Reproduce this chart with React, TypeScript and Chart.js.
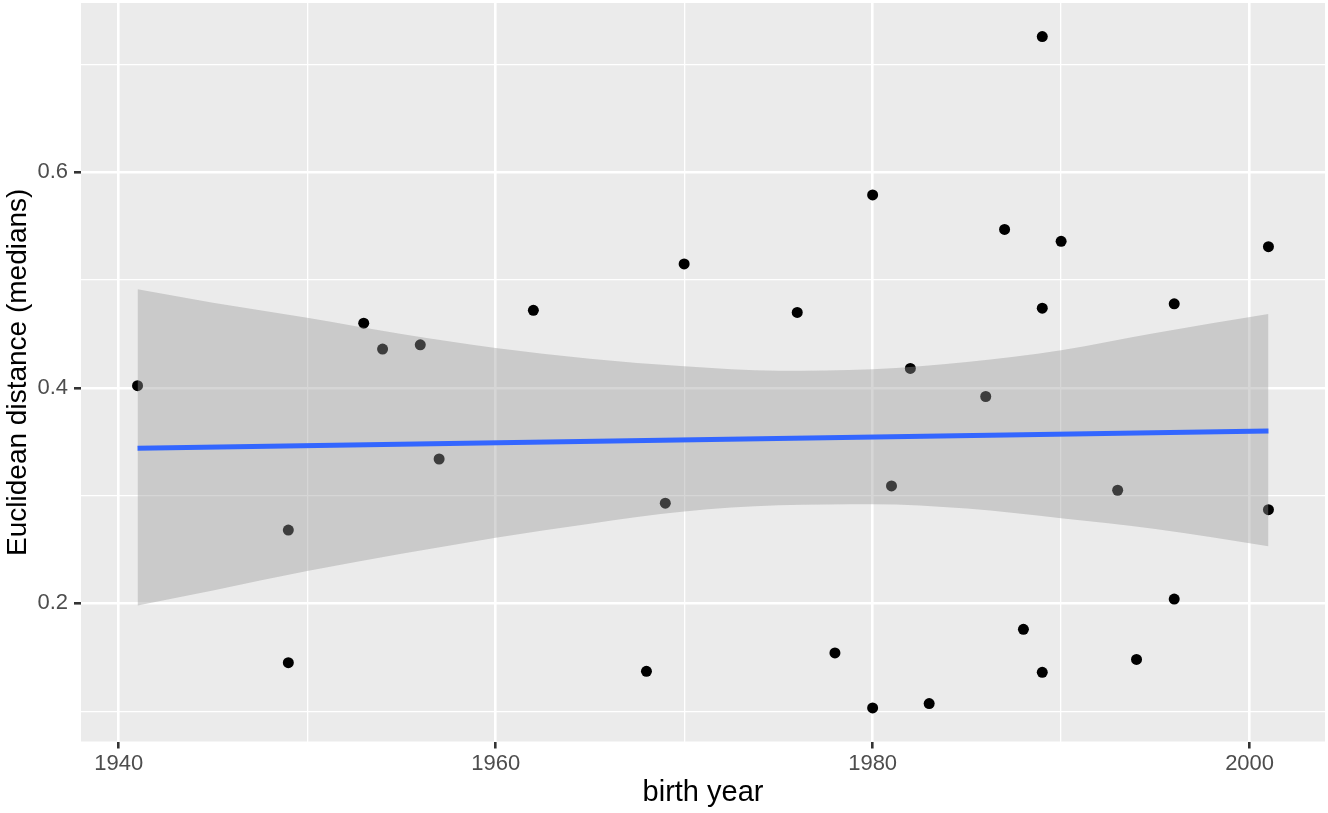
import React, { useEffect, useRef } from "react";
import { Chart, registerables } from "chart.js";

Chart.register(...registerables);

// Observed points
const birthYears = [
  1941, 1949, 1949, 1953, 1954, 1956, 1957, 1962, 1968, 1969, 1970, 1976, 1978,
  1980, 1980, 1981, 1982, 1983, 1986, 1987, 1988, 1989, 1989, 1989, 1990, 1993,
  1994, 1996, 1996, 2001, 2001,
];
const distances = [
  0.402, 0.268, 0.145, 0.46, 0.436, 0.44, 0.334, 0.472, 0.137, 0.293, 0.515, 0.47, 0.154,
  0.579, 0.103, 0.309, 0.418, 0.107, 0.392, 0.547, 0.176, 0.726, 0.474, 0.136, 0.536, 0.305,
  0.148, 0.478, 0.204, 0.531, 0.287,
];

// Linear fit and its confidence band
const fitYears = [1941, 2001];
const fitValues = [0.344, 0.36];
const bandYears = [1941, 1945, 1950, 1955, 1960, 1965, 1970, 1975, 1980, 1985, 1990, 1995, 2001];
const bandUpper = [0.4915, 0.479, 0.465, 0.45, 0.437, 0.427, 0.42, 0.416, 0.4173, 0.424, 0.435, 0.451, 0.4686];
const bandLower = [0.198, 0.212, 0.23, 0.246, 0.261, 0.274, 0.2853, 0.291, 0.292, 0.288, 0.279, 0.269, 0.253];

// Axis ticks
const xMajorTicks = [1940, 1960, 1980, 2000];
const xMinorTicks = [1950, 1970, 1990];
const yMajorTicks = [0.2, 0.4, 0.6];
const yMinorTicks = [0.1, 0.3, 0.5, 0.7];

const xTitle = "birth year";
const yTitle = "Euclidean distance (medians)";

const FONT = "'Liberation Sans', Arial, Helvetica, sans-serif";

function expandRange(vals: number[]): [number, number] {
  const lo = Math.min(...vals);
  const hi = Math.max(...vals);
  const d = (hi - lo) * 0.05;
  return [lo - d, hi + d];
}

const isIn = (list: number[], v: number) => list.some((t) => Math.abs(t - v) < 1e-9);

const zeroPadding = (s: any) => {
  s.paddingLeft = 0;
  s.paddingRight = 0;
  s.paddingTop = 0;
  s.paddingBottom = 0;
};

const panelBackground = {
  id: "panelBackground",
  beforeDraw(chart: any) {
    const { ctx, chartArea } = chart;
    if (!chartArea) return;
    ctx.save();
    ctx.fillStyle = "#EBEBEB";
    ctx.fillRect(chartArea.left, chartArea.top, chartArea.right - chartArea.left, chartArea.bottom - chartArea.top);
    ctx.restore();
  },
};

export default function App() {
  const canvasRef = useRef<HTMLCanvasElement | null>(null);

  useEffect(() => {
    if (!canvasRef.current) return;
    const xr = expandRange(birthYears);
    const yr = expandRange(distances);

    const points = birthYears.map((x, i) => ({ x, y: distances[i] }));
    const fit = fitYears.map((x, i) => ({ x, y: fitValues[i] }));
    const upper = bandYears.map((x, i) => ({ x, y: bandUpper[i] }));
    const lower = bandYears.map((x, i) => ({ x, y: bandLower[i] }));

    const chart = new Chart(canvasRef.current, {
      type: "scatter",
      data: {
        datasets: [
          {
            type: "line",
            label: "fit",
            data: fit,
            borderColor: "#3366FF",
            borderWidth: 5,
            pointRadius: 0,
            fill: false,
            showLine: true,
          } as any,
          {
            type: "line",
            label: "upper",
            data: upper,
            borderColor: "rgba(0,0,0,0)",
            borderWidth: 0,
            backgroundColor: "rgba(153,153,153,0.4)",
            pointRadius: 0,
            fill: "+1",
            showLine: true,
            cubicInterpolationMode: "monotone",
          } as any,
          {
            type: "line",
            label: "lower",
            data: lower,
            borderColor: "rgba(0,0,0,0)",
            borderWidth: 0,
            pointRadius: 0,
            fill: false,
            showLine: true,
            cubicInterpolationMode: "monotone",
          } as any,
          {
            type: "scatter",
            label: "points",
            data: points,
            backgroundColor: "#000000",
            borderColor: "#000000",
            borderWidth: 0,
            pointRadius: 5.5,
            pointHoverRadius: 5.5,
          } as any,
        ],
      },
      options: {
        animation: false,
        responsive: false,
        devicePixelRatio: 1,
        events: [],
        layout: { autoPadding: false, padding: { left: 0, right: 3, top: 3, bottom: 0 } },
        plugins: {
          legend: { display: false },
          tooltip: { enabled: false },
        },
        scales: {
          x: {
            type: "linear",
            min: xr[0],
            max: xr[1],
            afterBuildTicks: (s: any) => {
              s.ticks = [...xMajorTicks, ...xMinorTicks].sort((a, b) => a - b).map((v) => ({ value: v }));
            },
            afterFit: (s: any) => {
              s.height = 71.5;
              zeroPadding(s);
            },
            ticks: {
              autoSkip: false,
              maxRotation: 0,
              minRotation: 0,
              padding: 2,
              color: "#4D4D4D",
              font: { family: FONT, size: 22 },
              callback: (v: any) => (isIn(xMajorTicks, Number(v)) ? String(v) : ""),
            },
            grid: {
              color: "#FFFFFF",
              lineWidth: (c: any) => (c.tick && isIn(xMajorTicks, c.tick.value) ? 2.6 : 1.3),
              tickColor: (c: any) => (c.tick && isIn(xMajorTicks, c.tick.value) ? "#333333" : "rgba(0,0,0,0)"),
              tickLength: 7,
              tickWidth: 2.6,
              drawTicks: true,
            },
            border: { display: false },
            title: {
              display: true,
              text: xTitle,
              color: "#000000",
              font: { family: FONT, size: 29 },
              padding: { top: 0, bottom: 3 },
            },
          },
          y: {
            type: "linear",
            min: yr[0],
            max: yr[1],
            afterBuildTicks: (s: any) => {
              s.ticks = [...yMajorTicks, ...yMinorTicks].sort((a, b) => a - b).map((v) => ({ value: v }));
            },
            afterFit: (s: any) => {
              s.width = 81;
              zeroPadding(s);
            },
            ticks: {
              autoSkip: false,
              padding: 6,
              color: "#4D4D4D",
              font: { family: FONT, size: 22 },
              callback: (v: any) => (isIn(yMajorTicks, Number(v)) ? Number(v).toFixed(1) : ""),
            },
            grid: {
              color: "#FFFFFF",
              lineWidth: (c: any) => (c.tick && isIn(yMajorTicks, c.tick.value) ? 2.6 : 1.3),
              tickColor: (c: any) => (c.tick && isIn(yMajorTicks, c.tick.value) ? "#333333" : "rgba(0,0,0,0)"),
              tickLength: 7,
              tickWidth: 2.6,
              drawTicks: true,
            },
            border: { display: false },
            title: {
              display: true,
              text: yTitle,
              color: "#000000",
              font: { family: FONT, size: 28 },
              padding: { top: 1, bottom: 0 },
            },
          },
        },
      },
      plugins: [panelBackground],
    } as any);

    return () => chart.destroy();
  }, []);

  return (
    <div style={{ position: "absolute", left: 0, top: 0, width: 1328, height: 813, background: "#FFFFFF" }}>
      <canvas ref={canvasRef} width={1328} height={813} style={{ display: "block", width: 1328, height: 813 }} />
    </div>
  );
}
